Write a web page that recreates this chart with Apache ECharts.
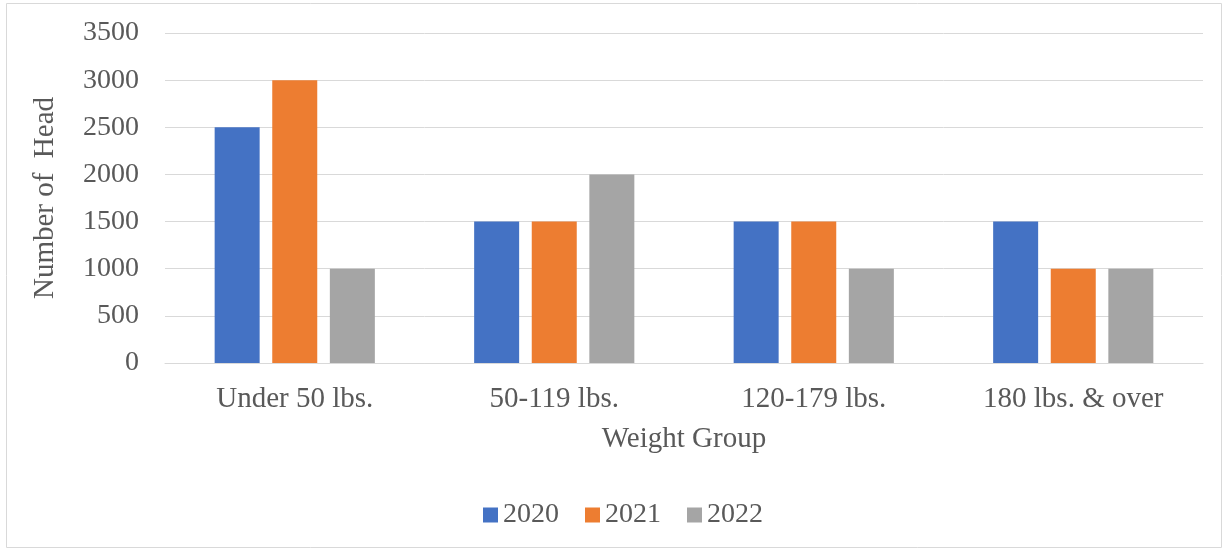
<!DOCTYPE html>
<html><head><meta charset="utf-8">
<script src="https://cdn.jsdelivr.net/npm/echarts@6/dist/echarts.min.js"></script>
<style>html,body{margin:0;padding:0;background:#fff}#c{width:1225px;height:550px}</style>
</head><body><div id="c"></div>
<script>
const categories = ['Under 50 lbs.', '50-119 lbs.', '120-179 lbs.', '180 lbs. & over'];
const s2020 = [2500, 1500, 1500, 1500];
const s2021 = [3000, 1500, 1500, 1000];
const s2022 = [1000, 2000, 1000, 1000];
const seriesNames = ['2020', '2021', '2022'];
const colors = ['#4472C4', '#ED7D31', '#A5A5A5'];
const font = '"Liberation Serif", "Times New Roman", serif';
const chart = echarts.init(document.getElementById('c'));
const mk = (name, data, color) => ({
  name, type: 'bar', data, barWidth: 45, barGap: '28%',
  itemStyle: { color }
});
chart.setOption({
  animation: false,
  textStyle: { fontFamily: font },
  graphic: [{ type: 'rect', shape: { x: 6.5, y: 3.5, width: 1215, height: 544 },
    style: { fill: 'none', stroke: '#d9d9d9', lineWidth: 1 }, silent: true }],
  grid: { left: 165, right: 22, top: 33, bottom: 187 },
  legend: {
    bottom: 16, left: 478, itemWidth: 15, itemHeight: 15, itemGap: 26,
    icon: 'rect', textStyle: { fontFamily: font, fontSize: 28, color: '#595959' },
    data: seriesNames
  },
  xAxis: {
    type: 'category', data: categories,
    name: 'Weight Group', nameLocation: 'middle', nameGap: 62,
    nameTextStyle: { fontFamily: font, fontSize: 29, color: '#595959' },
    axisLine: { lineStyle: { color: '#d9d9d9', width: 1 } },
    axisTick: { show: false },
    axisLabel: { fontFamily: font, fontSize: 29, color: '#595959', margin: 22 }
  },
  yAxis: {
    type: 'value', min: 0, max: 3500, interval: 500,
    name: 'Number of  Head', nameLocation: 'middle', nameGap: 105,
    nameTextStyle: { fontFamily: font, fontSize: 29, color: '#595959' },
    axisLine: { show: false }, axisTick: { show: false },
    splitLine: { lineStyle: { color: '#d9d9d9', width: 1 } },
    axisLabel: { fontFamily: font, fontSize: 28, color: '#595959', margin: 26, formatter: v => String(v) }
  },
  series: [mk(seriesNames[0], s2020, colors[0]), mk(seriesNames[1], s2021, colors[1]), mk(seriesNames[2], s2022, colors[2])]
});
</script></body></html>
